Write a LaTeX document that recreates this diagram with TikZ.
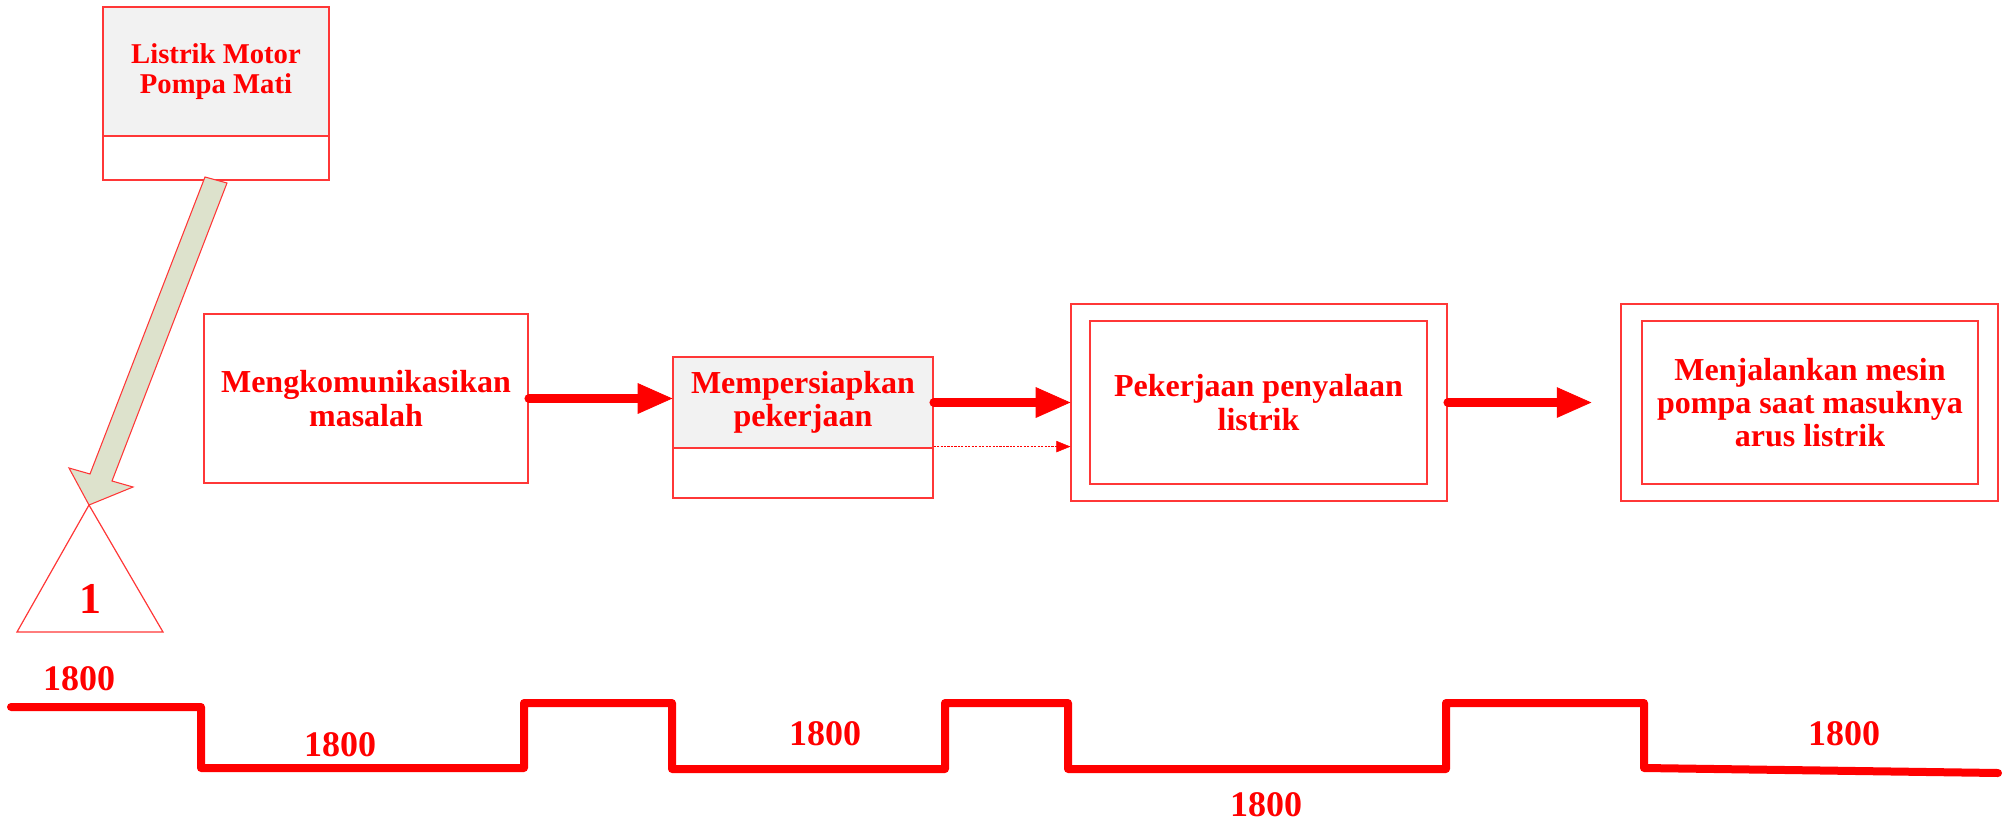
\documentclass[tikz,border=0pt]{standalone}
\usepackage{fontspec}
\setmainfont{Liberation Serif}
\usetikzlibrary{arrows.meta,calc}
\definecolor{edge}{RGB}{255,55,55}
\definecolor{paper}{RGB}{242,242,242}
\definecolor{olivefill}{RGB}{221,226,204}

\begin{document}
\begin{tikzpicture}[x=0.75pt,y=-0.75pt,
  box/.style={draw=edge, line width=0.9pt, inner sep=0pt, align=center, text=red,
    font=\fontsize{24}{25}\selectfont\bfseries},
  shaded/.style={box, fill=paper},
  flow/.style={draw=red, line width=6.2pt, line cap=round,
    -{Triangle[length=26pt,width=23pt,line width=0.5pt]}},
  thinflow/.style={draw=red, line width=0.8pt, dash pattern=on 1.6pt off 1pt,
    -{Triangle[length=10.5pt,width=8.5pt,line width=0.3pt]}},
  wave/.style={draw=red, line width=6pt, line cap=round, line join=round},
  count/.style={text=red, inner sep=0pt, font=\fontsize{27}{27}\selectfont\bfseries},
]
\useasboundingbox (0,0) rectangle (2013,822);

% event box at the top left
\node[shaded, minimum width=169.5pt, minimum height=96.75pt,
  font=\fontsize{21.5}{23}\selectfont\bfseries] (event) at (216,71.5)
  {Listrik Motor\\Pompa Mati};
\node[box, minimum width=169.5pt, minimum height=33pt] (eventlow) at (216,158) {};

% process steps
\node[box, minimum width=243pt, minimum height=126.75pt] (talk) at (366,398.5)
  {Mengkomunikasikan\\masalah};
\node[shaded, minimum width=195pt, minimum height=68.25pt] (prep) at (803,402.5)
  {Mempersiapkan\\pekerjaan};
\node[box, minimum width=195pt, minimum height=37.5pt] (preplow) at (803,473) {};

\node[box, minimum width=282pt, minimum height=147.75pt] (workout) at (1259,402.5) {};
\node[box, minimum width=252.75pt, minimum height=122.25pt] (work) at (1258.5,402.5)
  {Pekerjaan penyalaan\\listrik};

\node[box, minimum width=282.75pt, minimum height=147.75pt] (runout) at (1809.5,402.5) {};
\node[box, minimum width=252pt, minimum height=122.25pt] (run) at (1810,402.5)
  {Menjalankan mesin\\pompa saat masuknya\\arus listrik};

% connectors between the steps
\coordinate (runin) at ($(runout.west)+(-29,0)$);
\coordinate (dotstart) at ($(prep.south east)+(0,-2)$);
\draw[flow] (talk.east) -- (talk.east -| prep.west);
\draw[flow] (prep.east) -- (workout.west);
\draw[flow] (workout.east) -- (runin);
\draw[thinflow] (dotstart) -- (dotstart -| workout.west);

% triangle marker
\coordinate (apex) at (89,505);
\coordinate (baseL) at (17,632);
\coordinate (baseR) at (163,632);
\draw[edge, line width=0.9pt] (apex) -- (baseL) -- (baseR) -- cycle;
\node[text=red, font=\fontsize{33}{33}\selectfont\bfseries] (one) at (90,599) {1};

% block arrow from the event box down to the marker
\draw[edge, line width=0.8pt, fill=olivefill, line join=miter]
  (205,177) -- (227,183) -- (112,481) -- (133,487) -- (apex) -- (69,468) -- (90,474) -- cycle;

% timeline
\draw[wave] (11,707) -- (201,707) -- (201,768) -- (524,768) -- (524,703) -- (672,703)
  -- (672,769) -- (945,769) -- (945,703) -- (1068,703) -- (1068,769) -- (1446,769)
  -- (1446,703) -- (1644,703) -- (1644,768) -- (1998,773);

\node[count] (t1) at (79,679) {1800};
\node[count] (t2) at (340,745) {1800};
\node[count] (t3) at (825,734) {1800};
\node[count] (t4) at (1266,805) {1800};
\node[count] (t5) at (1844,734) {1800};
\end{tikzpicture}
\end{document}
